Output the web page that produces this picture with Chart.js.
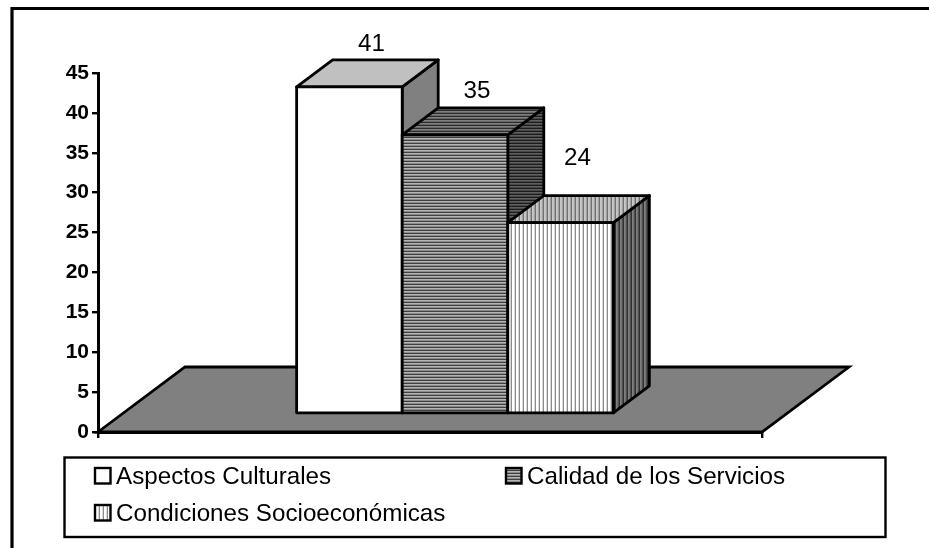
<!DOCTYPE html>
<html>
<head>
<meta charset="utf-8">
<style>html,body{margin:0;padding:0;background:#fff}canvas{display:block}</style>
<script src="https://cdn.jsdelivr.net/npm/chart.js@4/dist/chart.umd.min.js"></script>
</head>
<body>
<canvas id="c" width="929" height="548"></canvas>
<script>
const categories = [''];
const seriesNames = ['Aspectos Culturales', 'Calidad de los Servicios', 'Condiciones Socioecon\u00f3micas'];
const aspectosCulturales = [41];
const calidadServicios = [35];
const condicionesSocio = [24];
const yMin = 0, yMax = 45, yStep = 5;

const FONT = '"Liberation Sans", Arial, sans-serif';
const FRONT = {dx: 25, dy: -18};   // front plane of the 3D box, relative to the axes
const DEPTH = {dx: 36, dy: -27};   // depth of each column
const FLOOR = {dx: 87, dy: -65};   // depth of the floor
const LABEL_NUDGE = [[22, -43], [22, -43], [17, -64]];
const EDGE = 2.8;

function stripes(vertical, colors) {
  const n = colors.length, cv = document.createElement('canvas');
  cv.width = vertical ? n : 1; cv.height = vertical ? 1 : n;
  const g = cv.getContext('2d');
  colors.forEach((col, i) => {
    g.fillStyle = col;
    if (vertical) g.fillRect(i, 0, 1, 1); else g.fillRect(0, i, 1, 1);
  });
  return g.createPattern(cv, 'repeat');
}
const faces = [
  {front: '#ffffff', top: '#c0c0c0', side: '#808080'},
  {front: stripes(false, ['#b4b4b4', '#8c8c8c', '#404040']),
   top: stripes(false, ['#808080', '#666666', '#2c2c2c']),
   side: stripes(false, ['#606060', '#484848', '#1c1c1c'])},
  {front: stripes(true, ['#ffffff', '#ffffff', '#d8d8d8', '#8c8c8c']),
   top: stripes(true, ['#c8c8c8', '#c0c0c0', '#a0a0a0', '#707070']),
   side: stripes(true, ['#808080', '#707070', '#505050', '#303030'])}
];

function poly(ctx, pts, fill) {
  ctx.beginPath();
  pts.forEach((p, i) => i ? ctx.lineTo(p[0], p[1]) : ctx.moveTo(p[0], p[1]));
  ctx.closePath();
  ctx.fillStyle = fill;
  ctx.fill();
  ctx.stroke();
}

const scene3d = {
  id: 'scene3d',
  beforeDatasetsDraw(chart) {
    const {ctx, chartArea: a} = chart;
    ctx.save();
    ctx.lineWidth = EDGE; ctx.strokeStyle = '#000'; ctx.lineJoin = 'miter';
    poly(ctx, [[a.left, a.bottom], [a.left + FLOOR.dx, a.bottom + FLOOR.dy],
               [a.right + FLOOR.dx, a.bottom + FLOOR.dy], [a.right, a.bottom]], '#808080');
    ctx.lineJoin = 'round';
    chart.data.datasets.forEach((ds, i) => {
      const p = chart.getDatasetMeta(i).data[0].getProps(['x', 'y', 'base', 'width'], true);
      const l = p.x - p.width / 2 + FRONT.dx, r = p.x + p.width / 2 + FRONT.dx;
      const t = p.y + FRONT.dy, b = p.base + FRONT.dy;
      const f = faces[i];
      poly(ctx, [[r, t], [r + DEPTH.dx, t + DEPTH.dy], [r + DEPTH.dx, b + DEPTH.dy], [r, b]], f.side);
      poly(ctx, [[l, t], [l + DEPTH.dx, t + DEPTH.dy], [r + DEPTH.dx, t + DEPTH.dy], [r, t]], f.top);
      poly(ctx, [[l, t], [r, t], [r, b], [l, b]], f.front);
    });
    ctx.restore();
  },
  beforeDatasetDraw() {
    return false;
  },
  afterDatasetsDraw(chart) {
    const {ctx} = chart;
    ctx.save();
    ctx.font = '24.2px ' + FONT;
    ctx.fillStyle = '#000'; ctx.textAlign = 'center'; ctx.textBaseline = 'middle';
    chart.data.datasets.forEach((ds, i) => {
      const el = chart.getDatasetMeta(i).data[0];
      ctx.fillText(String(ds.data[0]),
        el.x + FRONT.dx + LABEL_NUDGE[i][0], el.y + FRONT.dy + LABEL_NUDGE[i][1]);
    });
    ctx.restore();
  }
};

const frameAndLegend = {
  id: 'frameAndLegend',
  afterDraw(chart) {
    const {ctx} = chart;
    ctx.save();
    ctx.strokeStyle = '#000';
    ctx.lineWidth = 3.2;
    ctx.beginPath();
    ctx.moveTo(12, 548); ctx.lineTo(12, 8.5); ctx.lineTo(929, 8.5);
    ctx.stroke();
    ctx.lineWidth = 2.4;
    ctx.strokeRect(64.5, 457.5, 821, 79.5);
    const slots = [[95, 116, 476], [506, 527, 476], [95, 116, 513]];
    ctx.font = '24.2px ' + FONT;
    ctx.textBaseline = 'middle'; ctx.textAlign = 'left';
    seriesNames.forEach((name, i) => {
      const [mx, tx, y] = slots[i];
      ctx.fillStyle = faces[i].front;
      ctx.fillRect(mx, y - 8, 15.5, 15.5);
      ctx.strokeRect(mx, y - 8, 15.5, 15.5);
      ctx.fillStyle = '#000';
      ctx.fillText(name, tx, y + 1);
    });
    ctx.restore();
  }
};

new Chart(document.getElementById('c'), {
  type: 'bar',
  data: {
    labels: categories,
    datasets: [
      {label: seriesNames[0], data: aspectosCulturales},
      {label: seriesNames[1], data: calidadServicios},
      {label: seriesNames[2], data: condicionesSocio}
    ]
  },
  options: {
    responsive: false,
    animation: false,
    events: [],
    devicePixelRatio: 1,
    layout: {padding: {left: 0, top: 73, right: 167, bottom: 0}},
    categoryPercentage: 0.477,
    barPercentage: 1,
    plugins: {legend: {display: false}, tooltip: {enabled: false}, title: {display: false}},
    scales: {
      x: {
        offset: true,
        afterFit(s) { s.height = 116; },
        border: {display: true, color: '#000', width: 3},
        grid: {drawOnChartArea: false, color: '#000', lineWidth: 2.4, tickLength: 6, tickColor: '#000'},
        ticks: {display: false}
      },
      y: {
        min: yMin, max: yMax,
        afterFit(s) { s.width = 98; },
        border: {display: true, color: '#000', width: 3},
        grid: {drawOnChartArea: false, color: '#000', lineWidth: 2.4, tickLength: 6, tickColor: '#000'},
        ticks: {stepSize: yStep, padding: 3, color: '#000', font: {family: FONT, size: 21, weight: 'bold'}}
      }
    }
  },
  plugins: [scene3d, frameAndLegend]
});
</script>
</body>
</html>
